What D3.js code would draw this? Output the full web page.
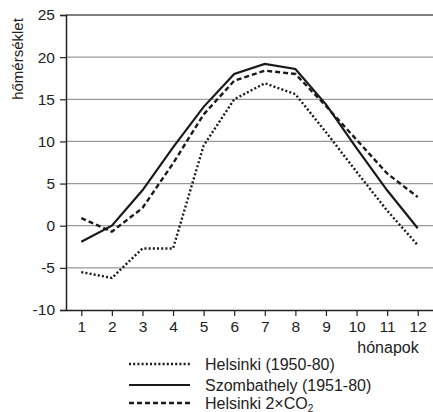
<!DOCTYPE html>
<html><head><meta charset="utf-8">
<script src="https://cdn.jsdelivr.net/npm/d3@7/dist/d3.min.js"></script>
<style>body{margin:0;background:#fff;} text{font-family:"Liberation Sans",Arial,sans-serif;fill:#222;}</style>
</head><body>
<svg id="c" width="433" height="412"></svg>
<script>
const months = [1,2,3,4,5,6,7,8,9,10,11,12];
const helsinki = [-5.5,-6.2,-2.7,-2.7,9.5,15.0,16.9,15.6,11.1,6.4,1.8,-2.3];
const szombathely = [-1.9,0.0,4.2,9.3,14.1,18.0,19.2,18.6,14.4,9.2,4.2,-0.3];
const helsinki2co2 = [0.9,-0.7,2.1,7.4,13.2,17.2,18.4,18.0,14.2,10.2,6.2,3.4];
const yTicks = [-10,-5,0,5,10,15,20,25];
const seriesNames = ["Helsinki (1950-80)","Szombathely (1951-80)","Helsinki 2×CO"];

const svg = d3.select("#c");
const L=66, R=433, T=15, B=310;
const x = d3.scaleLinear().domain([0.5,12.5]).range([L,R]);
const y = d3.scaleLinear().domain([-10,25]).range([B,T]);

// gridlines
svg.append("g").selectAll("line").data(yTicks.filter(d=>d>-10)).join("line")
  .attr("x1",L).attr("x2",R).attr("y1",d=>y(d)).attr("y2",d=>y(d))
  .attr("stroke",d=>d===25?"#555":"#999").attr("stroke-width",d=>d===25?1.4:1.3);

// axes
const ya = svg.append("g").attr("transform",`translate(${L},0)`)
  .call(d3.axisLeft(y).tickValues(yTicks).tickFormat(d=>String(d)).tickSize(6).tickPadding(5));
ya.select(".domain").attr("stroke","#222").attr("stroke-width",1.5);
ya.selectAll("line").attr("stroke","#222").attr("stroke-width",1.2);
ya.selectAll("text").style("font-size","15.5px").attr("fill","#222");

const xa = svg.append("g").attr("transform",`translate(0,${B})`)
  .call(d3.axisBottom(x).tickValues(months).tickFormat(d=>String(d)).tickSize(6).tickPadding(5).tickSizeOuter(0));
xa.select(".domain").attr("stroke","#222").attr("stroke-width",1.5);
xa.selectAll("line").attr("stroke","#222").attr("stroke-width",1.2);
xa.selectAll("text").style("font-size","15.5px").attr("fill","#222");

// axis titles
svg.append("text").attr("transform","translate(23,59) rotate(-90)")
  .attr("text-anchor","middle").style("font-size","15px").text("hőmérséklet");
svg.append("text").attr("x",388).attr("y",353).attr("text-anchor","middle")
  .style("font-size","16px").text("hónapok");

// lines
const line = d3.line().x((d,i)=>x(months[i])).y(d=>y(d));
const styles = [
  {data:helsinki, dash:"2,2.2", w:2.4},
  {data:szombathely, dash:null, w:2.2},
  {data:helsinki2co2, dash:"5,3", w:2.4}
];
styles.forEach(s=>{
  svg.append("path").datum(s.data).attr("d",line).attr("fill","none")
    .attr("stroke","#1a1a1a").attr("stroke-width",s.w)
    .attr("stroke-dasharray",s.dash);
});

// legend
const ly=[364,385,403];
styles.forEach((s,i)=>{
  svg.append("line").attr("x1",129).attr("x2",190).attr("y1",ly[i]).attr("y2",ly[i])
    .attr("stroke","#1a1a1a").attr("stroke-width",s.w).attr("stroke-dasharray",s.dash);
  const t = svg.append("text").attr("x",205).attr("y",ly[i]+5.5).style("font-size","16px").text(seriesNames[i]);
  if(i===2) t.append("tspan").attr("dy",3).style("font-size","10px").text("2");
});
</script>
</body></html>
